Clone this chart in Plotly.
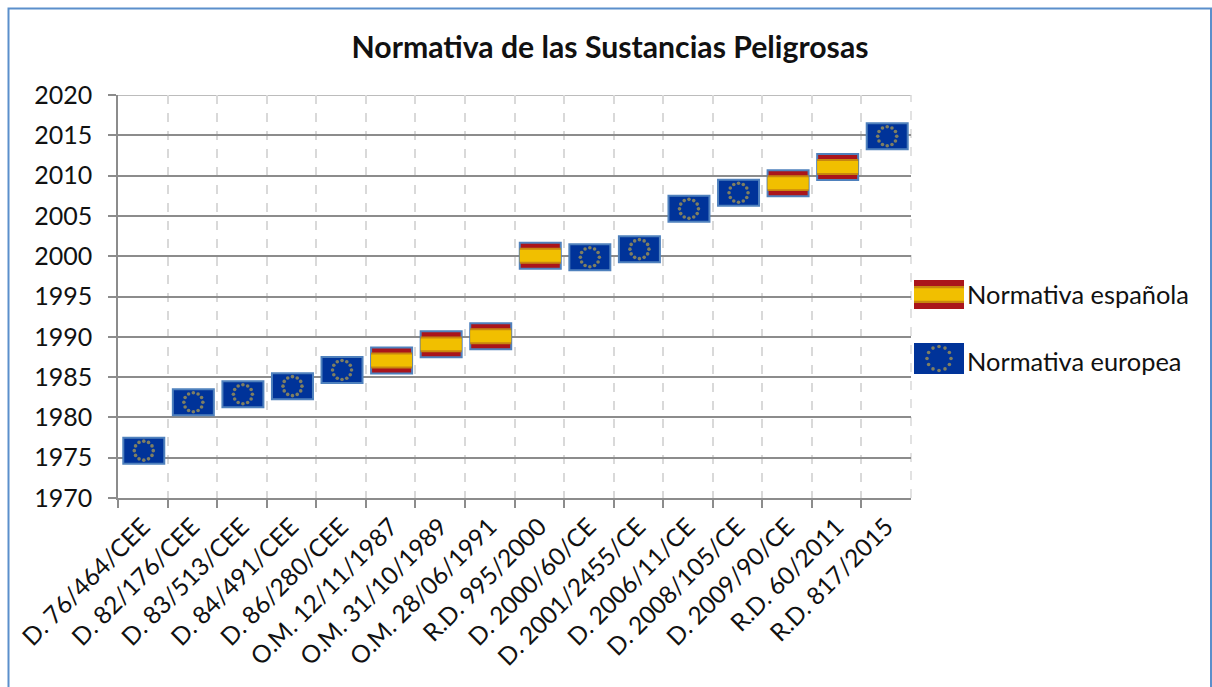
import math
import plotly.graph_objects as go

categories = ["D. 76/464/CEE", "D. 82/176/CEE", "D. 83/513/CEE", "D. 84/491/CEE", "D. 86/280/CEE",
              "O.M. 12/11/1987", "O.M. 31/10/1989", "O.M. 28/06/1991", "R.D. 995/2000", "D. 2000/60/CE",
              "D. 2001/2455/CE", "D. 2006/11/CE", "D. 2008/105/CE", "D. 2009/90/CE", "R.D. 60/2011", "R.D. 817/2015"]
normativa_espanola = [None, None, None, None, None, 1987, 1989, 1990, 2000, None, None, None, None, 2009, 2011, None]
normativa_europea = [1976, 1982, 1983, 1984, 1986, None, None, None, None, 2000, 2001, 2006, 2008, None, None, 2015]
title_text = "Normativa de las Sustancias Peligrosas"
legend_names = ["Normativa española", "Normativa europea"]

W, H = 1212, 687
L, R, T, B = 118, 911, 95, 498
FONT = "Lato"
BORDER = "#5b8fcb"
FLAG_BORDER = "#4f81bd"
RED, ORANGE, YELLOW, BLUE = "#aa151b", "#c8860f", "#f1bf00", "#003399"
STAR = "#7f7f62"
yr = (1970, 2020)
px_per_year = (B - T) / (yr[1] - yr[0])
px_per_cat = (R - L) / len(categories)
flag_h = 26 / px_per_year
flag_w = 41 / px_per_cat
dx_cat = 1 / px_per_cat        # flags sit about 1px right of the category centre
dy_eu = -1 / px_per_year       # European flags sit about 1px below the year
dy_es = 0.5 / px_per_year      # Spanish flags about half a pixel above it


def flag_bar(vals, frac, color, dy, line=None):
    hs = [flag_h * frac if v is not None else None for v in vals]
    bases = [v + dy - flag_h * frac / 2 if v is not None else None for v in vals]
    return go.Bar(x=categories, y=hs, base=bases, width=flag_w, offset=dx_cat - flag_w / 2,
                  showlegend=False, hoverinfo="skip",
                  marker=dict(color=color, line=dict(color=line or color, width=2 if line else 0)))


fig = go.Figure()
fig.add_trace(flag_bar(normativa_espanola, 1.0, RED, dy_es, FLAG_BORDER))
fig.add_trace(flag_bar(normativa_espanola, 0.61, ORANGE, dy_es))
fig.add_trace(flag_bar(normativa_espanola, 0.46, YELLOW, dy_es))
fig.add_trace(flag_bar(normativa_europea, 1.0, BLUE, dy_eu, FLAG_BORDER))

# ring of 12 stars on each European flag
sx, sy = [], []
for i, v in enumerate(normativa_europea):
    if v is None:
        continue
    for k in range(12):
        a = 2 * math.pi * k / 12
        sx.append(i + dx_cat + 9.5 * math.cos(a) / px_per_cat)
        sy.append(v + dy_eu + 9.5 * math.sin(a) / px_per_year)
fig.add_trace(go.Scatter(x=sx, y=sy, xaxis="x2", yaxis="y", mode="markers", showlegend=False, hoverinfo="skip",
                         marker=dict(symbol="circle", size=3.6, color=STAR)))

# legend: drawn flags and labels
legend_rows = [(280, 309), (343, 374)]
legend_text_y = [294, 361]
lx0, lx1 = 914, 964
grid = "#8c8c8c"
shapes = [dict(type="rect", xref="paper", yref="paper", x0=8.5 / W, x1=1211 / W, y0=-0.1, y1=1 - 8.5 / H,
               line=dict(color=BORDER, width=2), layer="below"),
          dict(type="line", xref="paper", yref="y", x0=L / W, x1=R / W, y0=yr[1], y1=yr[1],
               line=dict(color="#a6a6a6", width=1.5), layer="below"),
          dict(type="line", xref="paper", yref="paper", x0=R / W, x1=R / W, y0=1 - B / H, y1=1 - T / H,
               line=dict(color="#d9d9d9", width=1.5, dash="dash"), layer="below")]
def pr(x0, x1, y0, y1, c):
    return dict(type="rect", xref="paper", yref="paper", x0=x0 / W, x1=x1 / W, y0=1 - y1 / H, y1=1 - y0 / H,
                fillcolor=c, line=dict(width=0), layer="below")
y0, y1 = legend_rows[0]
shapes += [pr(lx0, lx1, y0, y1, RED), pr(lx0, lx1, y0 + 6, y1 - 6, ORANGE), pr(lx0, lx1, y0 + 8.3, y1 - 8.3, YELLOW)]
y0, y1 = legend_rows[1]
shapes += [pr(lx0, lx1, y0, y1, BLUE)]
lsx, lsy = [], []
for k in range(12):
    a = 2 * math.pi * k / 12
    lsx.append((lx0 + lx1) / 2 + 12 * math.cos(a))
    lsy.append((y0 + y1) / 2 + 12 * math.sin(a))
fig.add_trace(go.Scatter(x=lsx, y=lsy, xaxis="x3", yaxis="y3", mode="markers", showlegend=False, hoverinfo="skip",
                         marker=dict(symbol="circle", size=3.6, color=STAR)))

annotations = [dict(xref="paper", yref="paper", x=965 / W, y=1 - ty / H, text=n, showarrow=False,
                    xanchor="left", yanchor="middle", font=dict(family=FONT, size=25.4, color="#111111"))
               for n, ty in zip(legend_names, legend_text_y)]

fig.update_layout(
    template="none",
    width=W, height=H, margin=dict(l=0, r=0, t=0, b=0, pad=0), autosize=False,
    paper_bgcolor="white", plot_bgcolor="rgba(0,0,0,0)", barmode="overlay", showlegend=False,
    font=dict(family=FONT, color="#111111"),
    title=dict(text="<b>%s</b>" % title_text, x=610 / W, y=1 - 47 / H, xanchor="center", yanchor="middle",
               font=dict(family=FONT, size=30.2, color="#111111")),
    xaxis=dict(type="category", domain=[L / W, R / W], tickson="boundaries", tickangle=-45, showgrid=True,
               gridcolor="#d9d9d9", griddash="dash", gridwidth=1.5, ticks="outside", ticklen=8, tickcolor=grid,
               tickwidth=1.5, showline=True, linecolor=grid, linewidth=1.5, tickfont=dict(family=FONT, size=24.5),
               ticklabelstandoff=3,
               categoryorder="array", categoryarray=categories, range=[-0.5, 15.5], anchor="y", automargin=False),
    yaxis=dict(domain=[1 - B / H, 1 - T / H], range=list(yr), tick0=1970, dtick=5, showgrid=True, gridcolor=grid,
               gridwidth=1.5, ticks="outside", ticklen=8, tickcolor=grid, tickwidth=1.5, showline=True, linecolor=grid,
               linewidth=1.5, tickfont=dict(family=FONT, size=25), ticklabelstandoff=11, zeroline=False, anchor="x",
               automargin=False),
    xaxis2=dict(domain=[L / W, R / W], range=[-0.5, 15.5], overlaying="x", visible=False, anchor="y"),
    xaxis3=dict(domain=[0, 1], range=[0, W], visible=False, anchor="y3"),
    yaxis3=dict(domain=[0, 1], range=[H, 0], visible=False, anchor="x3"),
    shapes=shapes, annotations=annotations,
)
fig.write_html("out.html", post_script="document.body.style.margin='0';", config=dict(displayModeBar=False))
